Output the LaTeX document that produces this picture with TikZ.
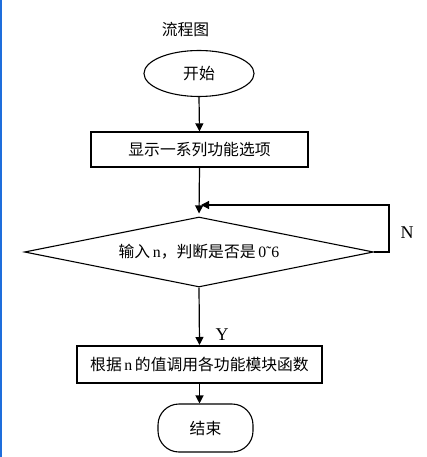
\documentclass[tikz,border=0pt]{standalone}
\usepackage{xcolor}
\usepackage{fontspec}
\setmainfont{Liberation Serif}
\newfontfamily\cjk{Noto Sans CJK SC}
\usepackage{tikz}
\usetikzlibrary{shapes.geometric,arrows.meta}
\definecolor{edgeblue}{RGB}{30,110,220}

\begin{document}
\begin{tikzpicture}[x=1pt,y=-1pt,
			every node/.style={inner sep=0pt,font=\fontsize{15.8}{18}\selectfont},
			startnode/.style={ellipse,draw,line width=1.1pt,minimum width=110pt,minimum height=46pt},
			stepbox/.style={rectangle,draw,line width=1.2pt},
			decide/.style={diamond,draw,line width=1.1pt,aspect=5,minimum width=349pt,minimum height=70pt},
			endnode/.style={rectangle,draw,line width=1.1pt,rounded corners=21pt,minimum width=95pt,minimum height=48pt},
			arr/.style={line width=1.2pt,-{Triangle[length=8pt,width=8pt]}},
			mark label/.style={font=\fontsize{18}{20}\selectfont}]
		\useasboundingbox (0,0) rectangle (427,457);
		\fill[edgeblue] (0,0) rectangle (2.3,457);
		% title
		\node (title) at (185.5,29) {\cjk 流程图};
		% flow
		\node[startnode] (start) at (199,73.5) {\cjk 开始};
		\node[stepbox,minimum width=217pt,minimum height=35pt] (show) at (199.5,149.5) {\cjk 显示一系列功能选项\hspace{17pt}};
		\node[decide] (input) at (199,252) {\cjk 输入\,{\rmfamily n}，判断是否是\,{\rmfamily 0\char"02DC 6}};
		\node[stepbox,line width=2pt,minimum width=245pt,minimum height=37pt] (call) at (199.5,364.5) {\cjk 根据\,{\rmfamily n}\,的值调用各功能模块函数};
		\node[endnode] (stop) at (205.5,428) {\cjk 结束};
		\coordinate (loopR) at (389,205);
		\coordinate (loopIn) at (201,205);
		% connectors
		\draw[arr] (start.south) -- (show.north);
		\draw[arr,shorten >=3pt] (show.south) -- (input.north);
		\draw[arr] (input.east) -| (loopR) -- (loopIn);
		\draw[arr] (input.south) -- (call.north);
		\draw[arr] (call.south) -- (call.south |- stop.north);
		% labels
		\node[mark label] (no) at (407,233) {N};
		\node[mark label] (yes) at (222,335) {Y};
\end{tikzpicture}
\end{document}
